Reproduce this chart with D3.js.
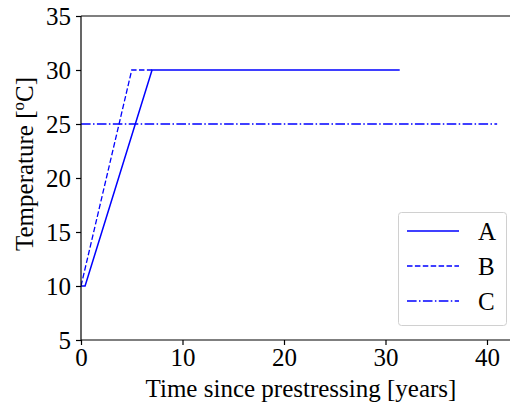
<!DOCTYPE html>
<html>
<head>
<meta charset="utf-8">
<script src="https://cdn.jsdelivr.net/npm/d3@7"></script>
<style>
  html, body { margin: 0; padding: 0; background: #fff; }
  svg { display: block; }
  text { font-family: "Liberation Serif", "Times New Roman", serif; fill: #000; }
</style>
</head>
<body>
<svg id="chart" width="510" height="408"></svg>
<script>
// Temperature histories (time in years, temperature in °C)
const seriesNames = ["A", "B", "C"];
const seriesA = [[0, 10], [0.4, 10], [7, 30], [31.4, 30]];
const seriesB = [[0, 10], [5, 30], [7, 30]];
const seriesC = [[0, 25], [41, 25]];
const xTicks = [0, 10, 20, 30, 40];
const yTicks = [5, 10, 15, 20, 25, 30, 35];

const FONT = '"Liberation Serif", "Times New Roman", serif';
const FS = "25px";

const svg = d3.select("#chart");
const margin = { left: 81, top: 16, bottom: 340, right: 521 };

const x = d3.scaleLinear().domain([0, 43.35]).range([margin.left, margin.right]);
const y = d3.scaleLinear().domain([5, 35]).range([margin.bottom, margin.top]);

const clipId = "plot-clip";
svg.append("clipPath").attr("id", clipId)
  .append("rect").attr("x", margin.left).attr("y", margin.top)
  .attr("width", margin.right - margin.left).attr("height", margin.bottom - margin.top);

const line = d3.line().x(d => x(d[0])).y(d => y(d[1]));

const styles = [
  { data: seriesA, dash: null, width: 1.5 },
  { data: seriesB, dash: "5.5,2.4", width: 1.3 },
  { data: seriesC, dash: "9.6,2.4,1.5,2.4", width: 1.5 }
];

const plot = svg.append("g").attr("clip-path", `url(#${clipId})`);
styles.forEach(s => {
  plot.append("path")
    .datum(s.data)
    .attr("d", line)
    .attr("fill", "none")
    .attr("stroke", "#0000ff")
    .attr("stroke-width", s.width)
    .attr("stroke-dasharray", s.dash)
    .attr("stroke-linejoin", "miter");
});

// Axes
const xAxis = d3.axisBottom(x).tickValues(xTicks).tickSize(5).tickPadding(3);
const yAxis = d3.axisLeft(y).tickValues(yTicks).tickSize(5).tickPadding(5);

const gx = svg.append("g").attr("transform", `translate(0,${margin.bottom})`).call(xAxis);
const gy = svg.append("g").attr("transform", `translate(${margin.left},0)`).call(yAxis);
[gx, gy].forEach(g => {
  g.attr("font-family", null).attr("font-size", null);
  g.select(".domain").attr("stroke", "#000").attr("stroke-width", 1.2);
  g.selectAll(".tick line").attr("stroke", "#000").attr("stroke-width", 1.2);
  g.selectAll(".tick text")
    .style("font-family", FONT)
    .style("font-size", FS).attr("fill", "#000");
});
gx.select(".domain").attr("d", `M${margin.left},0H${margin.right}`);
gy.select(".domain").attr("d", `M0,${margin.bottom}V${margin.top}`);

// Top spine
svg.append("line")
  .attr("x1", margin.left).attr("x2", margin.right)
  .attr("y1", margin.top).attr("y2", margin.top)
  .attr("stroke", "#000").attr("stroke-width", 1.2);

// Axis titles
svg.append("text")
  .attr("x", 301).attr("y", 397)
  .attr("text-anchor", "middle")
  .style("font-size", FS)
  .text("Time since prestressing [years]");

const yl = svg.append("text")
  .attr("transform", "translate(33,164) rotate(-90)")
  .attr("text-anchor", "middle")
  .style("font-size", FS);
yl.append("tspan").text("Temperature [");
yl.append("tspan").attr("dy", -9).style("font-size", "17px").text("o");
yl.append("tspan").attr("dy", 9).text("C]");

// Legend
const legend = svg.append("g");
legend.append("rect")
  .attr("x", 398.5).attr("y", 212.5).attr("width", 108).attr("height", 113)
  .attr("rx", 3).attr("ry", 3)
  .attr("fill", "#fff").attr("stroke", "#d0d0d0").attr("stroke-width", 1);
seriesNames.forEach((name, i) => {
  const cy = 231 + i * 35;
  legend.append("line")
    .attr("x1", 407).attr("x2", 459).attr("y1", cy).attr("y2", cy)
    .attr("stroke", "#0000ff")
    .attr("stroke-width", styles[i].width)
    .attr("stroke-dasharray", styles[i].dash);
  legend.append("text")
    .attr("x", 478).attr("y", cy + 9)
    .style("font-size", FS)
    .text(name);
});
</script>
</body>
</html>
